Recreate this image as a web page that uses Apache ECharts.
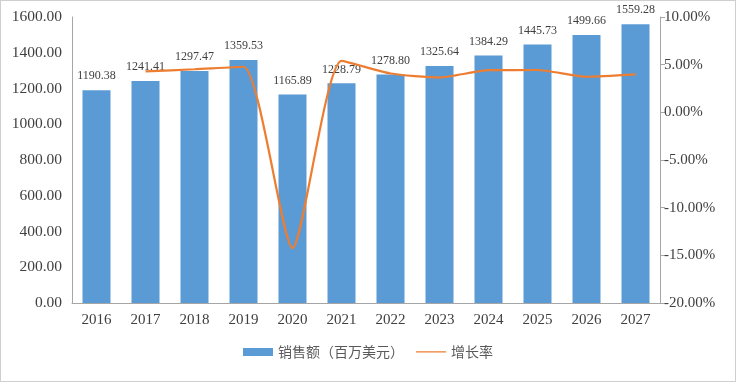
<!DOCTYPE html>
<html><head><meta charset="utf-8">
<script src="https://cdn.jsdelivr.net/npm/echarts@6/dist/echarts.min.js"></script>
<style>html,body{margin:0;padding:0;background:#fff}#c{width:736px;height:382px;box-sizing:border-box;border:1px solid #cfcfcf}</style>
</head><body><div id="c"></div>
<script>
const years = ['2016','2017','2018','2019','2020','2021','2022','2023','2024','2025','2026','2027'];
const sales = [1190.38,1241.41,1297.47,1359.53,1165.89,1228.79,1278.80,1325.64,1384.29,1445.73,1499.66,1559.28];
const growth = [null,4.29,4.52,4.78,-14.24,5.39,4.07,3.66,4.42,4.44,3.73,3.98];
const salesName = '销售额（百万美元）';
const growthName = '增长率';
const serif = '"Liberation Serif","DejaVu Serif",serif';
const cjk = '"Noto Sans CJK SC",sans-serif';
const lineIcon = 'path://M0,0h0.01v0.01h-0.01z M0,3h40v1.6H0z M0,8h0.01v0.01h-0.01z';
const chart = echarts.init(document.getElementById('c'));
chart.setOption({
  animation:false,
  grid:{left:71,right:75,top:16,bottom:78},
  legend:{bottom:17,left:'center',itemGap:12,itemWidth:30,itemHeight:8,
    textStyle:{fontFamily:cjk,fontSize:14,color:'#595959'},
    data:[{name:salesName,icon:'rect'},{name:growthName,icon:lineIcon}]},
  xAxis:{type:'category',data:years,
    axisLine:{lineStyle:{color:'#a6a6a6'}},axisTick:{show:false},
    axisLabel:{fontFamily:serif,fontSize:15,color:'#404040',margin:10}},
  yAxis:[
    {type:'value',min:0,max:1600,interval:200,
     axisLine:{show:true,lineStyle:{color:'#a6a6a6'}},axisTick:{show:false},splitLine:{show:false},
     axisLabel:{fontFamily:serif,fontSize:15.5,color:'#404040',margin:10,formatter:v=>v.toFixed(2)}},
    {type:'value',min:-20,max:10,interval:5,
     axisLine:{show:true,lineStyle:{color:'#a6a6a6'}},axisTick:{show:true,length:5,lineStyle:{color:'#a6a6a6'}},splitLine:{show:false},
     axisLabel:{fontFamily:serif,fontSize:15,color:'#404040',margin:4,formatter:v=>v.toFixed(2)+'%'}}
  ],
  series:[
    {name:salesName,type:'bar',data:sales,barWidth:28,itemStyle:{color:'#5B9BD5'},
     label:{show:true,position:'top',distance:8,fontFamily:serif,fontSize:12,color:'#404040',formatter:p=>p.value.toFixed(2)}},
    {name:growthName,type:'line',yAxisIndex:1,data:growth,smooth:0.2,showSymbol:false,symbol:'none',
     lineStyle:{color:'#ED7D31',width:2.2},itemStyle:{color:'#ED7D31'}}
  ]
});
</script></body></html>
